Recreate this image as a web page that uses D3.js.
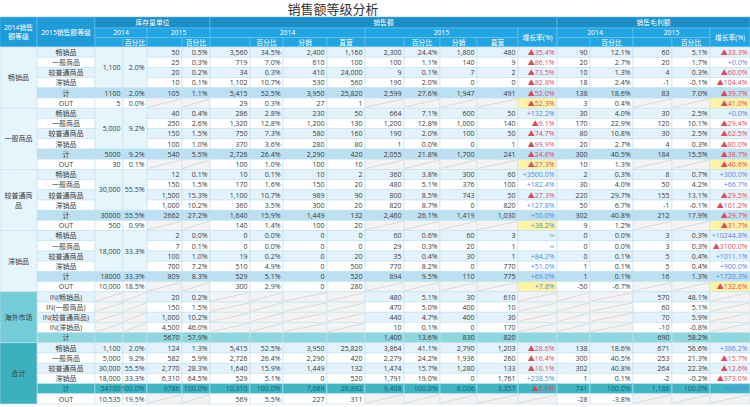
<!DOCTYPE html>
<html><head><meta charset="utf-8">
<script src="https://cdn.jsdelivr.net/npm/d3@7"></script>
<style>
html,body{margin:0;padding:0;background:#fff;}
svg{display:block;}
text{font-family:"Open Sans","Noto Sans CJK SC",sans-serif;}
</style></head>
<body>
<svg id="chart" width="750" height="407"></svg>
<script>
// ---------------- DATA ----------------
const title = '销售额等级分析';
const levels = ['畅销品','一般商品','较普通商品','滞销品'];
const inLevels = ['IN(畅销品)','IN(一般商品)','IN(较普通商品)','IN(滞销品)'];
const groupNames = ['畅销品','一般商品','较普通商品','滞销品','海外市场','合计'];
const H = null; // hatched (no value)
const M = '^';  // merged inventory-2014 cell
// inventory 2014 (merged across the four rows of a group)
const inv2014 = [['1,100','2.0%'],['5,000','9.2%'],['30,000','55.5%'],['18,000','33.3%']];

// columns: inv14, %, inv15, %, sales14, %, 分销, 直营, sales15, %, 分销, 直营, growth, gp14, %, gp15, %, growth
const g1Rows = [
 ['50','0.5%','3,560','34.5%','2,400','1,160','2,300','24.4%','1,800','480','▲35.4%','90','12.1%','60','5.1%','▲33.3%'],
 ['25','0.3%','719','7.0%','610','100','100','1.1%','140','9','▲86.1%','20','2.7%','20','1.7%','+0.0%'],
 ['20','0.2%','34','0.3%','410','24,000','9','0.1%','7','2','▲73.5%','10','1.3%','4','0.3%','▲60.0%'],
 ['10','0.1%','1,102','10.7%','530','560','190','2.0%','0','0','▲82.8%','18','2.4%','-1','-0.1%','▲104.4%']];
const g1Total = ['1100','2.0%','105','1.1%','5,415','52.5%','3,950','25,820','2,599','27.6%','1,947','491','▲52.0%','138','18.6%','83','7.0%','▲39.7%'];
const g1Out = ['5','0.0%',H,H,'29','0.3%','27','1',H,H,H,H,'▲52.3%','3','0.4%',H,H,'▲41.0%'];

const g2Rows = [
 ['40','0.4%','286','2.8%','230','50','664','7.1%','600','50','+132.2%','30','4.0%','30','2.5%','+0.0%'],
 ['250','2.6%','1,320','12.8%','1,200','130','1,200','12.8%','1,000','140','▲9.1%','170','22.9%','120','10.1%','▲29.4%'],
 ['150','1.5%','750','7.3%','580','160','190','2.0%','100','50','▲74.7%','80','10.8%','30','2.5%','▲62.5%'],
 ['100','1.0%','370','3.6%','280','80','1','0.0%','0','1','▲99.9%','20','2.7%','4','0.3%','▲80.0%']];
const g2Total = ['5000','9.2%','540','5.5%','2,726','26.4%','2,290','420','2,055','21.8%','1,700','241','▲24.6%','300','40.5%','184','15.5%','▲38.7%'];
const g2Out = ['30','0.1%',H,H,'100','1.0%','100','10',H,H,H,H,'▲27.3%','10','1.3%',H,H,'▲40.6%'];

const g3Rows = [
 ['12','0.1%','10','0.1%','10','2','360','3.8%','300','60','+3500.0%','2','0.3%','8','0.7%','+300.0%'],
 ['150','1.5%','170','1.6%','150','20','480','5.1%','376','100','+182.4%','30','4.0%','50','4.2%','+66.7%'],
 ['1,500','15.3%','1,100','10.7%','989','90','800','8.5%','743','50','▲27.3%','220','29.7%','155','13.1%','▲29.5%'],
 ['1,000','10.2%','360','3.5%','300','20','820','8.7%','0','820','+127.8%','50','6.7%','-1','-0.1%','▲101.2%']];
const g3Total = ['30000','55.5%','2662','27.2%','1,640','15.9%','1,449','132','2,460','26.1%','1,419','1,030','+50.0%','302','40.8%','212','17.9%','▲29.7%'];
const g3Out = ['500','0.9%',H,H,'140','1.4%','100','20',H,H,H,H,'+38.2%','9','1.2%',H,H,'▲31.7%'];

const g4Rows = [
 ['2','0.0%','0','0.0%','0','0','60','0.6%','60','3','∞','0','0.0%','3','0.3%','+10244.8%'],
 ['7','0.1%','0','0.0%','0','0','29','0.3%','20','1','∞','0','0.0%','3','0.3%','▲3100.0%'],
 ['100','1.0%','19','0.2%','0','20','35','0.4%','30','1','+84.2%','0','0.1%','5','0.4%','+1011.1%'],
 ['700','7.2%','510','4.9%','0','500','770','8.2%','0','770','+51.0%','1','0.1%','5','0.4%','+900.0%']];
const g4Total = ['18000','33.3%','809','8.3%','529','5.1%','0','520','894','9.5%','110','775','+69.0%','1','0.1%','16','1.3%','+1720.3%'];
const g4Out = ['10,000','18.5%',H,H,'300','2.9%','0','280',H,H,H,H,'+7.8%','-50','-6.7%',H,H,'▲132.6%'];

const g5Rows = [
 [H,H,'20','0.2%',H,H,H,H,'480','5.1%','30','610',H,H,H,'570','48.1%',H],
 [H,H,'150','1.5%',H,H,H,H,'470','5.0%','400','10',H,H,H,'60','5.1%',H],
 [H,H,'1,000','10.2%',H,H,H,H,'440','4.7%','400','30',H,H,H,'70','5.9%',H],
 [H,H,'4,500','46.0%',H,H,H,H,'10','0.1%','0','170',H,H,H,'-10','-0.8%',H]];
const g5Total = ['','','5670','57.9%','','','','','1,400','13.6%','830','820','','','','690','58.2%',''];

const g6Rows = [
 ['1,100','2.0%','124','1.3%','5,415','52.5%','3,950','25,820','3,864','41.1%','2,790','1,203','▲28.6%','138','18.6%','671','56.6%','+386.2%'],
 ['5,000','9.2%','582','5.9%','2,726','26.4%','2,290','420','2,279','24.2%','1,936','260','▲16.4%','300','40.5%','253','21.3%','▲15.7%'],
 ['30,000','55.5%','2,770','28.3%','1,640','15.9%','1,449','132','1,474','15.7%','1,280','133','▲10.1%','302','40.8%','264','22.3%','▲12.6%'],
 ['18,000','33.3%','6,310','64.5%','529','5.1%','0','520','1,791','19.0%','0','1,761','+238.5%','1','0.1%','-2','-0.2%','▲373.0%']];
const g6Total = ['54100','100.0%','9786','100.0%','10,310','100.0%','7,689','26,892','9,408','100.0%','6,006','3,357','▲8.0%','741','100.0%','1,186','100.0%','+60.0%'];
const g6Out = ['10,535','19.5%',H,H,'569','5.5%','227','311',H,H,H,H,H,'-28','-3.8%',H,H,H];

// ---------------- LAYOUT ----------------
const colW = [37,58,28,24,35,28,40,33,44,38,39,36,37,41,39,33,43,39,38,40];
const colX = [0, ...d3.cumsum(colW)];
const headRows = [17, 28, 37.6, 47];
const bodyTop = 47, bodyBottom = 404;

const C = {
  h1:'#1a8ec6', h2:'#22a5e3', hside:'#1e9bd8', hline:'#6cc3ec',
  line:'#c3e1f1', rowAlt:'#e3f2fb', rowWhite:'#ffffff', total:'#bcdff2',
  groupBg:'#e6f4fc', merged:'#e6f4fc',
  tealLabel:'#74ccd6', tealTotal:'#8fd6de', sumLabel:'#3bb0bf', sumTotal:'#3fb6c4',
  hatchBg:'#f3f3f3', hatchLine:'#cfcfcf', yellow:'#fff4a6',
  text:'#3a3a3a', red:'#dc4b5b', blue:'#5089dd', sumText:'#125d7b'
};

// Build rows
const rows = [];
const groups = [];
const gItems = [g1Rows,g2Rows,g3Rows,g4Rows];
const gTot = [g1Total,g2Total,g3Total,g4Total];
const gOut = [g1Out,g2Out,g3Out,g4Out];
gItems.forEach((items,gi)=>{
  const start = rows.length;
  items.forEach((v,i)=>rows.push({label:levels[i], vals:[M,M,...v], bg: i%2===0?C.rowAlt:C.rowWhite}));
  rows.push({label:'计', vals:gTot[gi], bg:C.total});
  rows.push({label:'OUT', vals:gOut[gi], bg:C.rowWhite, out:true});
  groups.push({name:groupNames[gi], start, n:6, bg:C.groupBg, merged:inv2014[gi]});
});
{
  const start = rows.length;
  g5Rows.forEach((v,i)=>rows.push({label:inLevels[i], vals:v, bg: i%2===0?C.rowAlt:C.rowWhite}));
  rows.push({label:'计', vals:g5Total, bg:C.tealTotal});
  groups.push({name:groupNames[4], start, n:5, bg:C.tealLabel});
}
{
  const start = rows.length;
  g6Rows.forEach((v,i)=>rows.push({label:levels[i], vals:v, bg: i%2===0?C.rowAlt:C.rowWhite}));
  rows.push({label:'计', vals:g6Total, bg:C.sumTotal, sum:true});
  rows.push({label:'OUT', vals:g6Out, bg:C.rowWhite, out:true});
  groups.push({name:groupNames[5], start, n:6, bg:C.sumLabel});
}

const y = d3.scaleBand().domain(d3.range(rows.length)).range([bodyTop, bodyBottom]).paddingInner(0).paddingOuter(0);
const rh = y.bandwidth();

const svg = d3.select('#chart');
svg.append('text').attr('x',333).attr('y',14).attr('text-anchor','middle')
  .attr('font-size',13).attr('fill','#333').text(title);

// ---------------- HEADER ----------------
const hdr = [
 {c:0,cs:1,r:0,rs:3,t:['2014销售','额等级'],bg:C.hside},
 {c:1,cs:1,r:0,rs:3,t:['2015销售额等级'],bg:C.hside},
 {c:2,cs:4,r:0,rs:1,t:['库存量单位'],bg:C.h1},
 {c:6,cs:9,r:0,rs:1,t:['销售额'],bg:C.h1},
 {c:15,cs:5,r:0,rs:1,t:['销售毛利额'],bg:C.h1},
 {c:2,cs:2,r:1,rs:1,t:['2014'],bg:C.h2},
 {c:4,cs:2,r:1,rs:1,t:['2015'],bg:C.h2},
 {c:6,cs:4,r:1,rs:1,t:['2014'],bg:C.h2},
 {c:10,cs:4,r:1,rs:1,t:['2015'],bg:C.h2},
 {c:14,cs:1,r:1,rs:2,t:['增长率(%)'],bg:C.h2},
 {c:15,cs:2,r:1,rs:1,t:['2014'],bg:C.h2},
 {c:17,cs:2,r:1,rs:1,t:['2015'],bg:C.h2},
 {c:19,cs:1,r:1,rs:2,t:['增长率(%)'],bg:C.h2},
];
[[2,''],[3,'百分比'],[4,''],[5,'百分比'],[6,''],[7,'百分比'],[8,'分销'],[9,'直营'],
 [10,''],[11,'百分比'],[12,'分销'],[13,'直营'],[15,''],[16,'百分比'],[17,''],[18,'百分比']]
 .forEach(([c,t])=>hdr.push({c,cs:1,r:2,rs:1,t:[t],bg:C.h2}));

const hg = svg.append('g');
const hc = hg.selectAll('g').data(hdr).join('g');
hc.append('rect')
  .attr('x',d=>colX[d.c]).attr('y',d=>headRows[d.r])
  .attr('width',d=>colX[d.c+d.cs]-colX[d.c]).attr('height',d=>headRows[d.r+d.rs]-headRows[d.r])
  .attr('fill',d=>d.bg).attr('stroke',C.hline).attr('stroke-width',0.6);
hc.each(function(d){
  const cx=(colX[d.c]+colX[d.c+d.cs])/2, cy=(headRows[d.r]+headRows[d.r+d.rs])/2;
  const n=d.t.length;
  d.t.forEach((s,i)=>{
    d3.select(this).append('text').attr('x',cx).attr('y',cy+(i-(n-1)/2)*9+2.5)
      .attr('text-anchor','middle').attr('font-size',6.8).attr('fill','#fff').text(s);
  });
});

// ---------------- BODY ----------------
const body = svg.append('g');
const cells = [];
rows.forEach((row,ri)=>{
  row.vals.forEach((v,k)=>{
    const c=k+2;
    if(v===M) return;
    cells.push({ri,c,v,row});
  });
});

body.selectAll('rect.lab').data(rows).join('rect').attr('class','lab')
  .attr('x',colX[1]).attr('y',(d,i)=>y(i)).attr('width',colW[1]).attr('height',rh)
  .attr('fill',d=>d.bg).attr('stroke',C.line).attr('stroke-width',0.6);
body.selectAll('text.lab').data(rows).join('text').attr('class','lab')
  .attr('x',colX[1]+colW[1]/2).attr('y',(d,i)=>y(i)+rh/2+2.6).attr('text-anchor','middle')
  .attr('font-size',7).attr('fill',d=>d.sum?C.sumText:C.text).text(d=>d.label);

const isGrowth = c => c===14 || c===19;
const cellBg = d => {
  if(d.v===null) return C.hatchBg;
  if(d.row.out && isGrowth(d.c)) return C.yellow;
  return d.row.bg;
};
const cg = body.selectAll('g.cell').data(cells).join('g').attr('class','cell');
cg.append('rect')
  .attr('x',d=>colX[d.c]).attr('y',d=>y(d.ri)).attr('width',d=>colW[d.c]).attr('height',rh)
  .attr('fill',cellBg).attr('stroke',C.line).attr('stroke-width',0.6);
cg.filter(d=>d.v===null).append('line')
  .attr('x1',d=>colX[d.c]+1).attr('y1',d=>y(d.ri)+rh-1)
  .attr('x2',d=>colX[d.c+1]-1).attr('y2',d=>y(d.ri)+1)
  .attr('stroke',C.hatchLine).attr('stroke-width',0.7);
cg.filter(d=>d.v!==null && d.v!=='').append('text')
  .attr('x',d=>colX[d.c+1]-2.5).attr('y',d=>y(d.ri)+rh/2+2.6).attr('text-anchor','end')
  .attr('font-size',7)
  .attr('fill',d=>{
    if(isGrowth(d.c)) return d.v.startsWith('▲') ? C.red : C.blue;
    return d.row.sum?C.sumText:C.text;
  })
  .text(d=>d.v);

// merged inventory-2014 cells
groups.filter(g=>g.merged).forEach(g=>{
  [0,1].forEach(k=>{
    const c=2+k;
    const y0=y(g.start), h=rh*4;
    body.append('rect').attr('x',colX[c]).attr('y',y0).attr('width',colW[c]).attr('height',h)
      .attr('fill',C.merged).attr('stroke',C.line).attr('stroke-width',0.6);
    body.append('text').attr('x',colX[c+1]-2.5).attr('y',y0+h/2+2.6).attr('text-anchor','end')
      .attr('font-size',7).attr('fill',C.text).text(g.merged[k]);
  });
});

// group label column
const gg = body.selectAll('g.grp').data(groups).join('g').attr('class','grp');
gg.append('rect').attr('x',0).attr('y',d=>y(d.start)).attr('width',colW[0]).attr('height',d=>rh*d.n)
  .attr('fill',d=>d.bg).attr('stroke',C.line).attr('stroke-width',0.6);
gg.each(function(d){
  const lines = d.name==='较普通商品' ? ['较普通商','品'] : [d.name];
  const cy = y(d.start)+rh*d.n/2;
  lines.forEach((s,i)=>{
    d3.select(this).append('text').attr('x',colW[0]/2).attr('y',cy+(i-(lines.length-1)/2)*10+2.6)
      .attr('text-anchor','middle').attr('font-size',7).attr('fill',C.text).text(s);
  });
});
</script>
</body></html>
